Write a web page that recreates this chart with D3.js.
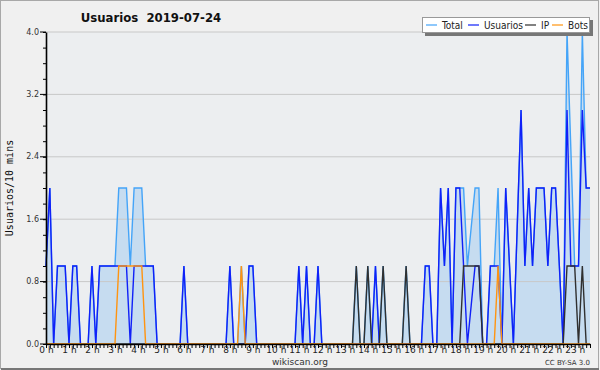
<!DOCTYPE html>
<html>
<head>
<meta charset="utf-8">
<script src="https://cdn.jsdelivr.net/npm/d3@7"></script>
<style>
  body { margin: 0; background: #f0f0f0; }
  svg { display: block; }
</style>
</head>
<body>
<svg id="chart" width="600" height="370"></svg>
<script>
// values per 10 minute slot, 00:00 .. 23:40
const usuarios = [
  1,2,0,1,1,1,0,1,1,0, 0,0,1,0,1,1,1,1,1,1, 1,1,0,1,1,1,1,1,1,0,
  0,0,0,0,0,0,1,0,0,0, 0,0,0,0,0,0,0,0,1,0, 0,0,0,1,1,0,0,0,0,0,
  0,0,0,0,0,0,1,0,1,0, 0,1,0,0,0,0,0,0,0,0, 0,0,0,0,0,0,1,0,0,0,
  0,0,0,0,0,0,0,0,0,1, 1,0,0,2,1,2,0,2,2,1, 0,0.5,1,1,0,0,1,1,1,0,
  2,1,0,1.5,3,1,2,1,2,2, 2,1,2,2,1,0,3,1,1,1, 3,2,2
];
const ip = [
  0,0,0,0,0,0,0,0,0,0, 0,0,0,0,0,0,0,0,0,0, 0,0,0,0,0,0,0,0,0,0,
  0,0,0,0,0,0,0,0,0,0, 0,0,0,0,0,0,0,0,0,0, 0,0,0,0,0,0,0,0,0,0,
  0,0,0,0,0,0,0,0,0,0, 0,0,0,0,0,0,0,0,0,0, 0,1,0,0,1,0,0,0,1,0,
  0,0,0,0,1,0,0,0,0,0, 0,0,0,0,0,0,0,0,0,1, 1,1,1,1,0,0,0,0,0,0,
  0,0,0,0,0,0,0,0,0,0, 0,0,0,0,0,0,1,1,1,0, 1,0,0
];
const bots = [
  0,0,0,0,0,0,0,0,0,0, 0,0,0,0,0,0,0,0,0,1, 1,1,1,1,1,1,0,0,0,0,
  0,0,0,0,0,0,0,0,0,0, 0,0,0,0,0,0,0,0,0,0, 0,1,0,0,0,0,0,0,0,0,
  0,0,0,0,0,0,0,0,0,0, 0,0,0,0,0,0,0,0,0,0, 0,0,0,0,0,0,0,0,0,0,
  0,0,0,0,0,0,0,0,0,0, 0,0,0,0,0,0,0,0,0,0, 0,0,0,0,0,0,0,0,1,0,
  0,0,0,0,0,0,0,0,0,0, 0,0,0,0,0,0,0,0,0,0, 0,0,0
];
const total = [
  1,2,0,1,1,1,0,1,1,0, 0,0,1,0,1,1,1,1,1,2, 2,2,1,2,2,2,1,1,1,0,
  0,0,0,0,0,0,1,0,0,0, 0,0,0,0,0,0,0,0,1,0, 0,1,0,1,1,0,0,0,0,0,
  0,0,0,0,0,0,1,0,1,0, 0,1,0,0,0,0,0,0,0,0, 0,1,0,0,1,0,1,0,1,0,
  0,0,0,0,1,0,0,0,0,1, 1,0,0,2,1,2,0,2,2,2, 1,1.5,2,2,0,0,1,1,2,0,
  2,1,0,1.5,3,1,2,1,2,2, 2,1,2,2,1,0,4,2.5,1,1, 4,2,2
];
const yTicks = [0, 0.8, 1.6, 2.4, 3.2, 4.0];
const seriesNames = ['Total', 'Usuarios', 'IP', 'Bots'];
const seriesColors = ['#44a4f8', '#1020f8', '#303030', '#ff9410'];
const title = 'Usuarios  2019-07-24';

const svg = d3.select('#chart');
const W = 600, H = 370;
const margin = {left: 46, right: 10, top: 32, bottom: 26};

svg.append('rect')
    .attr('x', 0.5).attr('y', 0.5).attr('width', W - 2).attr('height', H - 2)
    .attr('fill', '#f0f0f0').attr('stroke', '#a8a8a8');
svg.append('line')
    .attr('x1', 1).attr('x2', W - 1).attr('y1', H - 1).attr('y2', H - 1)
    .attr('stroke', '#777').attr('stroke-width', 2);

const x = d3.scaleLinear().domain([0, usuarios.length - 1])
    .range([margin.left, W - margin.right]);
const y = d3.scaleLinear().domain([0, 4]).range([H - margin.bottom, margin.top]);

// plot background
svg.append('rect')
    .attr('x', x(0)).attr('y', y(4))
    .attr('width', x.range()[1] - x(0)).attr('height', y(0) - y(4))
    .attr('fill', '#eceef0');

// area under total
const area = d3.area().x((d, i) => x(i)).y0(y(0)).y1(d => y(d));
svg.append('path').datum(total)
    .attr('d', area).attr('fill', '#c6dcf0');

// grid
svg.append('g').selectAll('line')
    .data(yTicks.slice(1)).enter().append('line')
    .attr('x1', x(0)).attr('x2', x.range()[1])
    .attr('y1', d => y(d)).attr('y2', d => y(d))
    .attr('stroke', '#c8c8c8').attr('stroke-width', 1);

// series lines
const lineGen = d3.line().x((d, i) => x(i)).y(d => y(d));
[total, usuarios, ip, bots].forEach(function(s, k) {
    svg.append('path').datum(s)
        .attr('d', lineGen)
        .attr('fill', 'none')
        .attr('stroke', seriesColors[k])
        .attr('stroke-width', 1.4)
        .attr('stroke-linejoin', 'miter');
});

// x axis: a tick every 10 minutes, label every hour
const xAxis = d3.axisBottom(x)
    .tickValues(d3.range(0, usuarios.length))
    .tickSize(4).tickSizeOuter(0)
    .tickFormat(d => d % 6 === 0 ? `${d / 6} h` : '');
const gx = svg.append('g')
    .attr('transform', `translate(0, ${y(0)})`)
    .call(xAxis);
gx.select('.domain').attr('stroke', '#000').attr('stroke-width', 1.6);
gx.selectAll('.tick line').attr('stroke', '#000');
gx.selectAll('.tick text')
    .attr('y', 3).attr('dy', '0.71em')
    .attr('font-family', 'DejaVu Sans').attr('font-size', 9).attr('fill', '#222');

// y axis: minor tick every 0.2
const yAxis = d3.axisLeft(y)
    .tickValues(d3.range(0, 21).map(i => i * 0.2))
    .tickSize(3).tickSizeOuter(0)
    .tickFormat('');
const gy = svg.append('g')
    .attr('transform', `translate(${x(0)}, 0)`)
    .call(yAxis);
gy.select('.domain').attr('stroke', '#000').attr('stroke-width', 1.6);
gy.selectAll('.tick line').attr('stroke', '#000');
gy.selectAll('.major').data(yTicks).enter().append('line')
    .attr('x1', -6).attr('x2', 0)
    .attr('y1', d => y(d)).attr('y2', d => y(d))
    .attr('stroke', '#000');
gy.selectAll('.ylab').data(yTicks).enter().append('text')
    .attr('x', -7).attr('y', d => y(d)).attr('dy', '0.32em')
    .attr('text-anchor', 'end')
    .attr('font-family', 'DejaVu Sans').attr('font-size', 8).attr('fill', '#333')
    .text(d => d3.format('.1f')(d));

// labels
svg.append('text')
    .attr('transform', `translate(13, ${(y(0) + y(4)) / 2}) rotate(-90)`)
    .attr('text-anchor', 'middle')
    .attr('font-family', 'DejaVu Sans Mono').attr('font-size', 10).attr('fill', '#111')
    .text('Usuarios/10 mins');
svg.append('text')
    .attr('x', 151).attr('y', 22).attr('text-anchor', 'middle')
    .attr('font-family', 'DejaVu Sans Condensed').attr('font-weight', 'bold')
    .attr('font-size', 13).attr('fill', '#111')
    .attr('xml:space', 'preserve')
    .text(title);
svg.append('text')
    .attr('x', 300).attr('y', 365).attr('text-anchor', 'middle')
    .attr('font-family', 'DejaVu Sans').attr('font-size', 9).attr('fill', '#333')
    .text('wikiscan.org');
svg.append('text')
    .attr('x', 590).attr('y', 365).attr('text-anchor', 'end')
    .attr('font-family', 'DejaVu Sans').attr('font-size', 7).attr('fill', '#333')
    .text('CC BY-SA 3.0');

// legend
const leg = svg.append('g').attr('transform', 'translate(422, 17)');
leg.append('rect').attr('x', 3).attr('y', 3).attr('width', 168).attr('height', 16)
    .attr('fill', '#777');
leg.append('rect').attr('x', 0.5).attr('y', 0.5).attr('width', 167).attr('height', 15)
    .attr('fill', '#fff').attr('stroke', '#999');
const legX = [4, 46, 103, 130];
const legItem = leg.selectAll('.item').data(seriesNames).enter().append('g')
    .attr('transform', (d, i) => `translate(${legX[i]}, 0)`);
legItem.append('line')
    .attr('x1', 0).attr('x2', 11).attr('y1', 8).attr('y2', 8)
    .attr('stroke', (d, i) => seriesColors[i]).attr('stroke-width', 1.2);
legItem.append('text')
    .attr('x', 16).attr('y', 11.5)
    .attr('font-family', 'DejaVu Sans Condensed').attr('font-size', 10).attr('fill', '#222')
    .text(d => d);
</script>
</body>
</html>
